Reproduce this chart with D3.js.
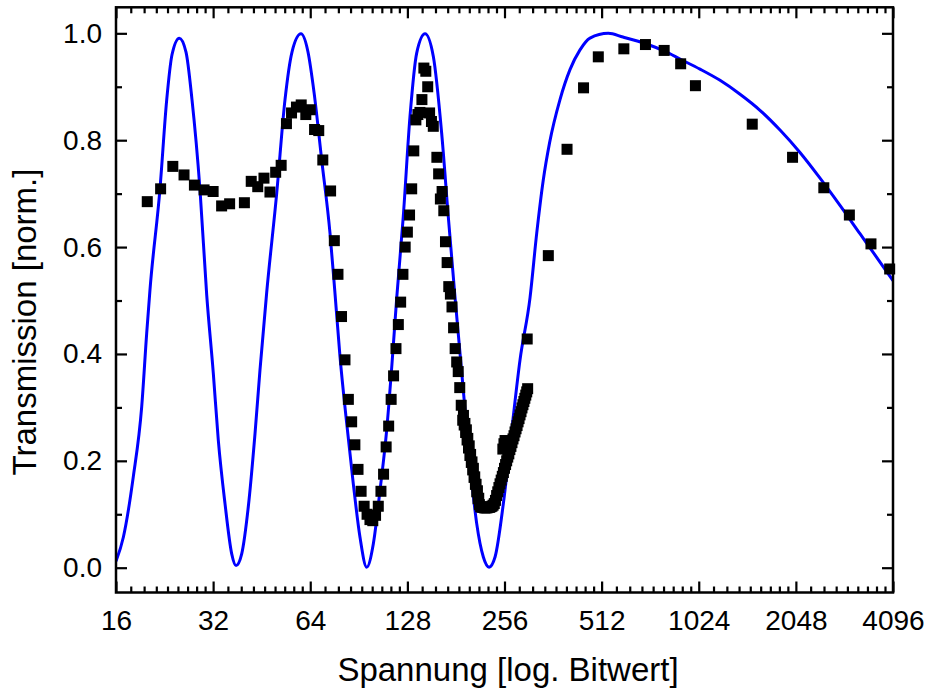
<!DOCTYPE html>
<html><head><meta charset="utf-8">
<script src="https://cdn.jsdelivr.net/npm/d3@7"></script>
<style>
body{margin:0;background:#fff}
svg{display:block}
text{font-family:"Liberation Sans",Arial,Helvetica,sans-serif;fill:#000}
</style>
</head><body>
<svg id="chart" width="931" height="695"></svg>
<script>
// ---- data ----
const measuredBitwert = [
  20,22,24,26,28,30,32,34,36,40,42,44,46,48,50,52,54,56,58,60,62,64,66,68,70,74,76,78,
  80,82,84,86,88,90,92,94,96,98,100,102,104,106,108,110,112,114,116,118,120,122,124,126,128,
  130,132,134,136,138,140,142,144,146,148,150,152,154,158,160,162,164,166,168,170,172,174,
  176,178,180,182,184,186,188,190,
  191,193,195,197,199,201,203,205,207,209,211,213,
  192,194,196,198,200,202,204,206,208,210,212,214,216,218,220,222,224,226,228,230,232,234,
  236,238,240,242,244,246,248,250,252,253,254,255,256,257,258,260,262,264,266,268,270,272,
  274,276,278,280,282,284,286,288,290,292,294,296,298,300,301,302,
  350,400,450,500,600,700,800,900,1000,1500,2000,2500,3000,3500,4000
];
const measuredTransmission = [
  0.685,0.709,0.751,0.735,0.716,0.707,0.704,0.677,0.681,0.683,0.723,0.713,0.729,0.703,0.740,0.753,
  0.831,0.851,0.862,0.866,0.848,0.857,0.820,0.818,0.763,0.705,0.612,0.549,
  0.470,0.389,0.315,0.273,0.230,0.184,0.143,0.115,0.100,0.090,0.088,0.098,0.115,0.143,0.175,0.226,
  0.265,0.315,0.359,0.410,0.455,0.497,0.549,0.600,0.628,
  0.660,0.709,0.780,0.838,0.848,0.852,0.876,0.935,0.929,0.900,0.851,0.835,0.826,0.768,0.737,0.690,
  0.704,0.668,0.610,0.571,0.526,0.512,
  0.488,0.449,0.410,0.385,0.367,0.337,0.304,0.276,
  0.285,0.270,0.258,0.242,0.228,0.212,0.198,0.186,0.170,0.156,0.144,0.130,
  0.267,0.253,0.239,0.224,0.210,0.197,0.183,0.169,0.156,0.142,0.129,0.118,0.114,0.113,0.113,0.112,
  0.112,0.112,0.113,0.113,0.114,0.115,
  0.117,0.120,0.126,0.135,0.142,0.150,0.157,0.164,0.171,0.222,0.178,0.232,0.186,0.238,0.193,0.200,
  0.207,0.213,0.221,0.227,0.234,0.241,
  0.247,0.254,0.260,0.266,0.273,0.279,0.286,0.292,0.299,0.305,0.311,0.317,0.323,0.329,0.428,0.335,
  0.584,0.783,0.898,0.956,0.971,0.979,0.968,0.943,0.902,0.830,0.768,0.711,0.660,0.606,0.559
];
const fitBitwert = [
  16,16.86,18.10,19.22,19.92,20.39,21.90,22.98,23.86,25.14,26.37,27.52,29.14,30.57,32.04,33.20,
  34.83,36.54,37.68,39.24,41.13,43.15,44.71,46.90,50.38,53.45,56.18,59.91,62.98,65.74,69.45,73.69,
  76.37,79.14,83.02,87.02,91.28,95.75,100.4,105.3,110.4,114.5,118.6,124.3,130.4,136.8,145.2,154.0,
  163.5,171.4,179.8,190.8,200.1,210.0,220.1,229.3,239.3,253.9,269.5,286.0,307.1,322.2,337.7,353.1,
  380.4,408.5,438.8,471.2,537,596,706,799,902,1033,1192,1375,1585,1829,2109,2433,2806,
  3236,3733,4096
];
const fitTransmission = [
  0.012,0.057,0.170,0.301,0.439,0.520,0.709,0.876,0.960,0.991,0.965,0.876,0.707,0.510,0.364,0.239,
  0.120,0.026,0.004,0.026,0.114,0.251,0.370,0.515,0.701,0.876,0.965,0.999,0.965,0.890,0.763,0.626,
  0.513,0.395,0.270,0.157,0.057,0.001,0.045,0.145,0.257,0.376,0.504,0.657,0.844,0.963,0.999,0.957,
  0.813,0.657,0.507,0.332,0.195,0.082,0.020,0.001,0.020,0.120,0.257,0.389,0.505,0.626,0.726,0.795,
  0.876,0.932,0.969,0.991,1.0,0.993,0.980,0.967,0.951,0.933,0.912,0.886,0.856,0.819,0.777,0.729,
  0.678,0.625,0.572,0.537
];
const xTickValues = [16,32,64,128,256,512,1024,2048,4096];
const yTickValues = [0,0.2,0.4,0.6,0.8,1.0];
const yMinorTickValues = [0.1,0.3,0.5,0.7,0.9];
const xTitle = "Spannung [log. Bitwert]";
const yTitle = "Transmission [norm.]";

// ---- layout ----
const L = 116, R = 893, T = 7.3, B = 592.5;
const svg = d3.select("#chart");
const x = d3.scaleLog().base(2).domain([16, 4096]).range([L, R]);
const y = d3.scaleLinear().domain([-0.0464, 1.0487]).range([B, T]);

// minor x ticks: 8 linear steps within each octave
const xMinor = [];
for (let i = 0; i < xTickValues.length - 1; i++) {
  const a = xTickValues[i], b = xTickValues[i + 1];
  for (let k = 1; k <= 8; k++) xMinor.push(a + k * (b - a) / 9);
}

const MAJ = 11, MIN = 6, TW = 2.2;
function styleAxis(g) {
  g.select(".domain").remove();
  g.selectAll(".tick line").attr("stroke", "#000").attr("stroke-width", TW);
  g.selectAll("text").attr("font-size", 28).style("font-family", '"Liberation Sans",Arial,sans-serif');
}

// bottom
svg.append("g").attr("transform", `translate(0,${B})`)
  .call(d3.axisBottom(x).tickValues(xTickValues).tickSize(-MAJ).tickPadding(18).tickFormat(d3.format("d")))
  .call(styleAxis);
svg.append("g").attr("transform", `translate(0,${B})`)
  .call(d3.axisBottom(x).tickValues(xMinor).tickSize(-MIN).tickFormat(""))
  .call(styleAxis);
// top
svg.append("g").attr("transform", `translate(0,${T})`)
  .call(d3.axisTop(x).tickValues(xTickValues).tickSize(-MAJ).tickFormat(""))
  .call(styleAxis);
svg.append("g").attr("transform", `translate(0,${T})`)
  .call(d3.axisTop(x).tickValues(xMinor).tickSize(-MIN).tickFormat(""))
  .call(styleAxis);
// left
svg.append("g").attr("transform", `translate(${L},0)`)
  .call(d3.axisLeft(y).tickValues(yTickValues).tickSize(-MAJ).tickPadding(14).tickFormat(d3.format(".1f")))
  .call(styleAxis);
svg.append("g").attr("transform", `translate(${L},0)`)
  .call(d3.axisLeft(y).tickValues(yMinorTickValues).tickSize(-MIN).tickFormat(""))
  .call(styleAxis);
// right
svg.append("g").attr("transform", `translate(${R},0)`)
  .call(d3.axisRight(y).tickValues(yTickValues).tickSize(-MAJ).tickFormat(""))
  .call(styleAxis);
svg.append("g").attr("transform", `translate(${R},0)`)
  .call(d3.axisRight(y).tickValues(yMinorTickValues).tickSize(-MIN).tickFormat(""))
  .call(styleAxis);

// clip
svg.append("clipPath").attr("id", "clip").append("rect")
  .attr("x", L).attr("y", T).attr("width", R - L).attr("height", B - T);

// fit curve
const fitData = fitBitwert.map((b, i) => [b, fitTransmission[i]]);
svg.append("path")
  .datum(fitData)
  .attr("clip-path", "url(#clip)")
  .attr("fill", "none")
  .attr("stroke", "#0000ff")
  .attr("stroke-width", 3)
  .attr("stroke-linejoin", "round")
  .attr("d", d3.line().x(d => x(d[0])).y(d => y(d[1])).curve(d3.curveMonotoneX));

// measured squares
const S = 11;
const meas = measuredBitwert.map((b, i) => [b, measuredTransmission[i]]);
svg.append("g").selectAll("rect").data(meas).join("rect")
  .attr("x", d => x(d[0]) - S / 2)
  .attr("y", d => y(d[1]) - S / 2)
  .attr("width", S).attr("height", S)
  .attr("fill", "#000");

// frame
svg.append("rect").attr("x", L).attr("y", T).attr("width", R - L).attr("height", B - T)
  .attr("fill", "none").attr("stroke", "#000").attr("stroke-width", 2.5);

// titles
svg.append("text").attr("x", 508).attr("y", 681).attr("text-anchor", "middle")
  .attr("font-size", 33).text(xTitle);
svg.append("text").attr("transform", "translate(36,322) rotate(-90)").attr("text-anchor", "middle")
  .attr("font-size", 33).text(yTitle);
</script>
</body></html>
